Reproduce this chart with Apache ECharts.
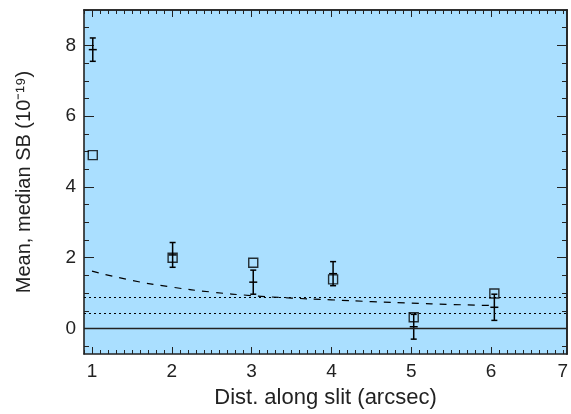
<!DOCTYPE html>
<html>
<head>
<meta charset="utf-8">
<script src="https://cdn.jsdelivr.net/npm/echarts@6/dist/echarts.min.js"></script>
<style>
html, body { margin: 0; padding: 0; background: #fff; }
#main { width: 571px; height: 414px; }
</style>
</head>
<body>
<div id="main"></div>
<script>
(function() {
    'use strict';

    // position along the slit (arcsec)
    var slitPos = [1.01, 2.01, 3.02, 4.02, 5.03, 6.04];
    // mean SB with 1-sigma error
    var meanSB = [7.88, 2.08, 1.31, 1.55, 0.05, 0.60];
    var meanErr = [0.33, 0.35, 0.34, 0.34, 0.35, 0.37];
    // median SB
    var medianSB = [4.90, 2.00, 1.86, 1.39, 0.32, 0.99];
    // dashed model curve
    var modelX = [1.0, 1.5, 2.0, 2.5, 3.0, 3.5, 4.0, 4.5, 5.0, 5.5, 6.0];
    var modelY = [1.62, 1.36, 1.17, 1.03, 0.93, 0.86, 0.81, 0.76, 0.72, 0.68, 0.65];
    // dotted levels and zero line
    var dottedLevels = [0.89, 0.44];
    var zeroLevel = 0;
    // ticks
    var xMajor = [1, 2, 3, 4, 5, 6];
    var yMajor = [0, 2, 4, 6, 8];

    var X_MIN = 0.9, X_MAX = 6.95, Y_MIN = -0.72, Y_MAX = 9.0;
    var FONT = 'Liberation Sans';
    var INK = '#222';

    var xMinor = [], yMinor = [];
    var i;
    for (i = 9; i <= 69; i++) xMinor.push(i / 10);
    for (i = -1; i <= 18; i++) yMinor.push(i / 2);

    function xAxisDef(pos, ticks, len, labels) {
        return {
            type: 'value', position: pos, min: X_MIN, max: X_MAX,
            gridIndex: 0,
            axisLine: { show: !!labels || pos === 'top', onZero: false, lineStyle: { color: INK, width: 1.6 } },
            axisTick: { show: true, inside: true, length: len, customValues: ticks, lineStyle: { color: INK, width: 1 } },
            axisLabel: labels ? {
                show: true, customValues: xMajor, margin: 8,
                fontFamily: FONT, fontSize: 19, color: INK
            } : { show: false },
            splitLine: { show: false },
            name: labels ? 'Dist. along slit (arcsec)' : '',
            nameLocation: 'middle', nameGap: 33,
            nameTextStyle: { fontFamily: FONT, fontSize: 22, color: INK }
        };
    }

    function yAxisDef(pos, ticks, len, labels) {
        return {
            type: 'value', position: pos, min: Y_MIN, max: Y_MAX,
            gridIndex: 0,
            axisLine: { show: !!labels || pos === 'right', onZero: false, lineStyle: { color: INK, width: 1.6 } },
            axisTick: { show: true, inside: true, length: len, customValues: ticks, lineStyle: { color: INK, width: 1 } },
            axisLabel: labels ? {
                show: true, customValues: yMajor, margin: 8,
                fontFamily: FONT, fontSize: 19, color: INK
            } : { show: false },
            splitLine: { show: false },
            name: labels ? 'Mean, median SB (10\u207B\u00B9\u2079)' : '',
            nameLocation: 'middle', nameGap: 50,
            nameTextStyle: { fontFamily: FONT, fontSize: 20, color: INK }
        };
    }

    function renderErr(params, api) {
        var x = api.value(0), y = api.value(1), e = api.value(2);
        var hi = api.coord([x, y + e]);
        var lo = api.coord([x, y - e]);
        var mid = api.coord([x, y]);
        var cw = 3, mw = 4;
        var st = { stroke: '#000', lineWidth: 1.5 };
        return {
            type: 'group',
            children: [
                { type: 'line', shape: { x1: mid[0], y1: hi[1], x2: mid[0], y2: lo[1] }, style: st },
                { type: 'line', shape: { x1: mid[0] - cw, y1: hi[1], x2: mid[0] + cw, y2: hi[1] }, style: st },
                { type: 'line', shape: { x1: mid[0] - cw, y1: lo[1], x2: mid[0] + cw, y2: lo[1] }, style: st },
                { type: 'line', shape: { x1: mid[0] - mw, y1: mid[1], x2: mid[0] + mw, y2: mid[1] }, style: st }
            ]
        };
    }

    var meanData = slitPos.map(function(x, k) { return [x, meanSB[k], meanErr[k]]; });
    var medianData = slitPos.map(function(x, k) { return [x, medianSB[k]]; });
    var modelData = modelX.map(function(x, k) { return [x, modelY[k]]; });

    var levelLines = dottedLevels.map(function(v) {
        return { yAxis: v, lineStyle: { type: [2, 3], color: '#000', width: 1.2 } };
    });
    levelLines.push({ yAxis: zeroLevel, lineStyle: { type: 'solid', color: '#222', width: 1.4 } });

    var myChart = echarts.init(document.getElementById('main'), null, { renderer: 'canvas' });

    var option = {
        animation: false,
        backgroundColor: '#fff',
        grid: [
            { left: 84, right: 4, top: 10, bottom: 60, show: true, backgroundColor: '#aadfff', borderWidth: 0, containLabel: false },
            { left: 84, right: 0, top: 10, bottom: 60, show: false, containLabel: false }
        ],
        xAxis: [
            xAxisDef('bottom', xMajor, 7, true),
            xAxisDef('bottom', xMinor, 4, false),
            xAxisDef('top', xMajor, 7, false),
            xAxisDef('top', xMinor, 4, false),
            {
                // only carries the "7" label which sits past the frame
                type: 'value', gridIndex: 1, position: 'bottom', min: 0.9, max: 7,
                axisLine: { show: false }, axisTick: { show: false }, splitLine: { show: false },
                axisLabel: { show: true, customValues: [7], showMaxLabel: true, margin: 8, fontFamily: FONT, fontSize: 19, color: INK }
            }
        ],
        yAxis: [
            yAxisDef('left', yMajor, 10, true),
            yAxisDef('left', yMinor, 5, false),
            yAxisDef('right', yMajor, 10, false),
            yAxisDef('right', yMinor, 5, false),
            { type: 'value', gridIndex: 1, min: 0, max: 1, show: false }
        ],
        series: [
            {
                type: 'line', name: 'levels', xAxisIndex: 0, yAxisIndex: 0,
                data: [], silent: true,
                markLine: { symbol: 'none', silent: true, label: { show: false }, data: levelLines }
            },
            {
                type: 'line', name: 'model', xAxisIndex: 0, yAxisIndex: 0,
                data: modelData, showSymbol: false, smooth: true,
                lineStyle: { color: '#000', width: 1.2, type: [7, 7] }
            },
            {
                type: 'scatter', name: 'median', xAxisIndex: 0, yAxisIndex: 0,
                data: medianData, symbol: 'rect', symbolSize: 9,
                itemStyle: { color: 'rgba(0,0,0,0)', borderColor: '#000', borderWidth: 1.4 }
            },
            {
                type: 'custom', name: 'mean', xAxisIndex: 0, yAxisIndex: 0,
                data: meanData, renderItem: renderErr
            }
        ]
    };

    myChart.setOption(option);
})();
</script>
</body>
</html>
